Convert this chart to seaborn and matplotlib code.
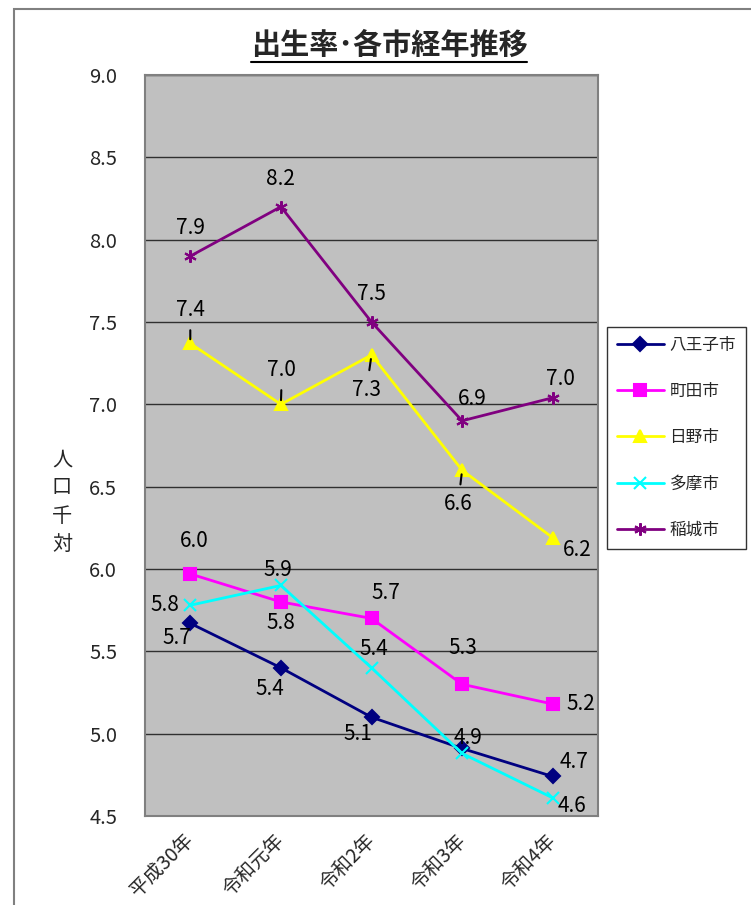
import numpy as np
import pandas as pd
import matplotlib
matplotlib.use('Agg')
import matplotlib.pyplot as plt
import seaborn as sns
from matplotlib.patches import Rectangle
from matplotlib.lines import Line2D
from matplotlib.transforms import ScaledTranslation

# data
years = ['平成30年', '令和元年', '令和2年', '令和3年', '令和4年']
cities = ['八王子市', '町田市', '日野市', '多摩市', '稲城市']
hachioji = [5.67, 5.40, 5.10, 4.91, 4.74]
machida = [5.97, 5.80, 5.70, 5.30, 5.18]
hino = [7.37, 7.00, 7.30, 6.60, 6.19]
tama = [5.78, 5.90, 5.40, 4.88, 4.61]
inagi = [7.90, 8.20, 7.50, 6.90, 7.04]

values = dict(zip(cities, [hachioji, machida, hino, tama, inagi]))
rows = [(c, i, y, v) for c in cities for i, (y, v) in enumerate(zip(years, values[c]))]
df = pd.DataFrame(rows, columns=['city', 'pos', 'year', 'rate'])

# styles
colors = {'八王子市': '#000080', '町田市': '#FF00FF', '日野市': '#FFFF00',
          '多摩市': '#00FFFF', '稲城市': '#800080'}
markers = {'八王子市': 'D', '町田市': 's', '日野市': '^', '多摩市': 'x', '稲城市': (6, 2, 0)}
msizes = {'八王子市': 7, '町田市': 9, '日野市': 9, '多摩市': 9, '稲城市': 9}
# label offsets in pixels (dx, dy downwards), None = hidden
offsets = {
    '八王子市': [(-13, 15), (-11, 21), (-14, 17), None, (21, -14)],
    '町田市': [(4, -33), (0, 21), (14, -25), (1, -36), (28, 0)],
    '日野市': [(0, -33), (1, -34), (-5, 35), (-4, 34), (25, 12)],
    '多摩市': [(-25, 0), (-3, -15), (2, -19), (6, -15), (19, 8)],
    '稲城市': [(0, -28), (0, -28), (0, -28), (10, -22), (8, -19)],
}
leaders = {'日野市': [True, True, True, True, False]}

sns.set_style('white')
plt.rcParams['font.family'] = ['Noto Sans CJK JP', 'DejaVu Sans']

W, H = 751, 905
fig = plt.figure(figsize=(W / 100, H / 100), dpi=100)
ax = fig.add_axes([145 / W, 1 - 816 / H, (598 - 145) / W, (816 - 75) / H])
ax.set_facecolor('#C0C0C0')

for c in cities:
    sub = df[df.city == c]
    sns.lineplot(data=sub, x='pos', y='rate', ax=ax, color=colors[c], lw=2,
                 marker=markers[c], markersize=msizes[c], markeredgecolor=colors[c],
                 markeredgewidth=1.5, markerfacecolor=colors[c], legend=False,
                 zorder=3)
    for i, v in enumerate(sub.rate):
        off = offsets[c][i]
        if off is None:
            continue
        lead = leaders.get(c, [False] * 5)[i]
        ax.annotate(f'{v:.1f}', (i, v), xytext=(off[0], -off[1]),
                    textcoords='offset pixels', ha='center', va='center',
                    fontsize=15, color='black', zorder=5,
                    arrowprops=dict(arrowstyle='-', color='black', lw=1.5,
                                    shrinkA=4, shrinkB=3) if lead else None)

ax.set_xlim(-0.5, 4.5)
ax.set_ylim(4.5, 9.0)
ax.set_yticks(np.arange(4.5, 9.01, 0.5))
ax.set_yticklabels([f'{t:.1f}' for t in np.arange(4.5, 9.01, 0.5)], fontsize=14.5)
ax.set_xticks(range(len(years)))
ax.set_xticklabels(years, rotation=45, ha='right', rotation_mode='anchor', fontsize=14)
ax.tick_params(axis='y', length=0, pad=20)
ax.tick_params(axis='x', length=0, pad=10)
shift = ScaledTranslation(-7 / 100, 0, fig.dpi_scale_trans)
for lab in ax.get_xticklabels():
    lab.set_transform(lab.get_transform() + shift)
ax.yaxis.grid(True, color='#303030', lw=1)
ax.set_axisbelow(True)
for s in ax.spines.values():
    s.set_color('#808080')
    s.set_linewidth(1.5)
ax.set_xlabel('')
ax.set_ylabel('')

fig.text(62 / W, 1 - 502 / H, '人\n口\n千\n対', ha='center', va='center',
         fontsize=14.5, linespacing=1.45)

title = fig.text(389 / W, 1 - 45 / H, '出生率･各市経年推移', ha='center', va='center',
                 fontsize=21, fontweight='bold', fontstyle='italic')
fig.canvas.draw()
bb = title.get_window_extent().transformed(fig.transFigure.inverted())
fig.add_artist(Line2D([bb.x0, bb.x1], [bb.y0 - 0.002, bb.y0 - 0.002],
                      transform=fig.transFigure, color='black', lw=1.5))

handles = [Line2D([], [], color=colors[c], lw=2, marker=markers[c],
                  markersize=msizes[c], markeredgecolor=colors[c], markeredgewidth=1.5)
           for c in cities]
leg = fig.legend(handles, cities, loc='upper left',
                 bbox_to_anchor=(607 / W, 1 - 327 / H), borderaxespad=0,
                 fontsize=12, handlelength=2.8, handletextpad=0.35,
                 labelspacing=1.75, frameon=True, fancybox=False,
                 edgecolor='black', borderpad=0.6)
leg.get_frame().set_linewidth(1)

fig.add_artist(Rectangle((14 / W, -0.1), 1, 1.1 - 9 / H, transform=fig.transFigure,
                         fill=False, edgecolor='#808080', lw=1.5))

fig.savefig('out.png', dpi=100)
